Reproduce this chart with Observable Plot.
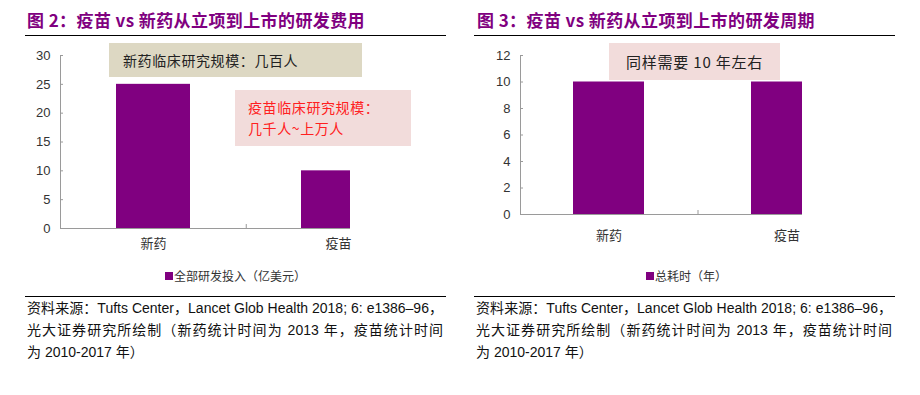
<!DOCTYPE html>
<html>
<head>
<meta charset="utf-8">
<script src="https://cdn.jsdelivr.net/npm/d3@7"></script>
<script src="https://cdn.jsdelivr.net/npm/@observablehq/plot@0.6"></script>
<style>
  body { margin: 0; background: #fff; }
  #root { position: relative; width: 920px; height: 395px; overflow: hidden; font-family: "Liberation Sans", "Noto Sans CJK SC", sans-serif; }
  .abs { position: absolute; }
  .title { font-family: "Noto Sans CJK SC", sans-serif; font-weight: bold; font-size: 17px; letter-spacing: 0.4px; line-height: 20px; color: #800080; white-space: nowrap; }
  .rule { height: 0; border-top: 1.5px solid #000; }
  .box { box-sizing: border-box; }
  .note { font-family: "Noto Sans CJK SC", serif; font-size: 14px; letter-spacing: 0.6px; white-space: nowrap; }
  .legend { font-family: "Noto Sans CJK SC", sans-serif; font-size: 12px; color: #333; line-height: 14px; white-space: nowrap; display: flex; align-items: center; }
  .legend i { display: inline-block; width: 8px; height: 8px; background: #800080; margin-right: 1px; }
  .src { font-family: "Liberation Sans", "Noto Sans CJK SC", sans-serif; font-size: 14px; line-height: 22px; color: #111; white-space: nowrap; }
  .just { text-align: justify; text-align-last: justify; }
</style>
</head>
<body>
<div id="root"></div>
<script>
// ---- data ----
const categories = ["新药", "疫苗"];
const rdCost = [25, 10];          // 全部研发投入（亿美元）
const rdYears = [10, 10];         // 总耗时（年）
const costTicks = [0, 5, 10, 15, 20, 25, 30];
const yearTicks = [0, 2, 4, 6, 8, 10, 12];

const titles = ["图 2：疫苗 vs 新药从立项到上市的研发费用", "图 3：疫苗 vs 新药从立项到上市的研发周期"];
const legends = ["全部研发投入（亿美元）", "总耗时（年）"];
const sourceLines = [
  "资料来源：Tufts Center，Lancet Glob Health 2018; 6: e1386–96，",
  "光大证券研究所绘制（新药统计时间为 2013 年，疫苗统计时间",
  "为 2010-2017 年）"
];
const notesLeft = ["新药临床研究规模：几百人", "疫苗临床研究规模：", "几千人~上万人"];
const noteRight = "同样需要 10 年左右";

const PURPLE = "#800080";
const AXIS = "#9a9a9a";

function makeChart({values, ticks, max, xRange, marginRight, marginBottom, labelPad}) {
  const data = categories.map((c, i) => ({cat: c, v: values[i]}));
  return Plot.plot({
    width: 460,
    height: 220,
    marginLeft: 60,
    marginTop: 15,
    marginRight,
    marginBottom,
    style: {fontFamily: '"Liberation Sans", "Noto Sans CJK SC", sans-serif', fontSize: "13px", color: "#333", background: "transparent", overflow: "visible"},
    x: {domain: categories, range: xRange, paddingInner: 0.6, paddingOuter: 0.3, label: null},
    y: {domain: [0, max], label: null},
    marks: [
      Plot.barY(data, {x: "cat", y: "v", fill: PURPLE, clip: true}),
      Plot.frame({anchor: "left", stroke: AXIS}),
      Plot.ruleY([0], {stroke: AXIS}),
      Plot.axisY({ticks, tickSize: 3, dx: 3, tickFormat: () => "", stroke: AXIS}),
      Plot.axisY({ticks, tickSize: 0, tickPadding: 10, fill: "#333", fontSize: 13}),
      Plot.axisX({ticks: [categories[0]], tickSize: 4, dx: (xRange[1] - xRange[0]) / 4, dy: -4, tickFormat: () => "", stroke: AXIS}),
      Plot.axisX({tickSize: 0, tickPadding: labelPad, fill: "#333", fontSize: 13, fontFamily: '"Noto Sans CJK SC", sans-serif'})
    ]
  });
}

const root = document.getElementById("root");
function add(html, cls, css) {
  const d = document.createElement("div");
  d.className = "abs " + (cls || "");
  Object.assign(d.style, css);
  if (html instanceof Node) d.appendChild(html); else d.innerHTML = html;
  root.appendChild(d);
  return d;
}

// ---- left panel ----
add(titles[0], "title", {left: "27px", top: "10px"});
add("", "rule", {left: "25px", top: "35px", width: "421px"});
add(makeChart({values: rdCost, ticks: costTicks, max: 30, xRange: [60, 431], marginRight: 110, marginBottom: 32, labelPad: 10}), "", {left: "0px", top: "40px"});
add(`<span>${notesLeft[0]}</span>`, "box note", {left: "109px", top: "43px", width: "253px", height: "34px", background: "#DDD8C3", color: "#222", paddingLeft: "14px", lineHeight: "34px"});
add(`<div>${notesLeft[1]}</div><div>${notesLeft[2]}</div>`, "box note", {left: "235px", top: "90px", width: "176px", height: "56px", background: "#F2DCDB", color: "#FF2020", paddingLeft: "13px", paddingTop: "7px", lineHeight: "21px"});
add(`<i></i>${legends[0]}`, "legend", {left: "165px", top: "269px"});
add("", "rule", {left: "25px", top: "296px", width: "421px"});
add(sourceLines.map((t, i) => `<div class="${i < 2 ? "just" : ""}">${t}</div>`).join(""), "src", {left: "27px", top: "297px", width: "416px"});

// ---- right panel ----
add(titles[1], "title", {left: "477px", top: "10px"});
add("", "rule", {left: "474px", top: "35px", width: "421px"});
add(makeChart({values: rdYears, ticks: yearTicks, max: 12, xRange: [60, 416], marginRight: 118, marginBottom: 46, labelPad: 16}), "", {left: "460px", top: "40px"});
add(`<span>${noteRight}</span>`, "box note", {left: "609px", top: "43px", width: "171px", height: "37px", background: "#F2DCDB", color: "#222", fontSize: "15px", lineHeight: "37px", textAlign: "center", letterSpacing: "0.8px"});
add(`<i></i>${legends[1]}`, "legend", {left: "646px", top: "269px"});
add("", "rule", {left: "474px", top: "296px", width: "421px"});
add(sourceLines.map((t, i) => `<div class="${i < 2 ? "just" : ""}">${t}</div>`).join(""), "src", {left: "476px", top: "297px", width: "416px"});
</script>
</body>
</html>
